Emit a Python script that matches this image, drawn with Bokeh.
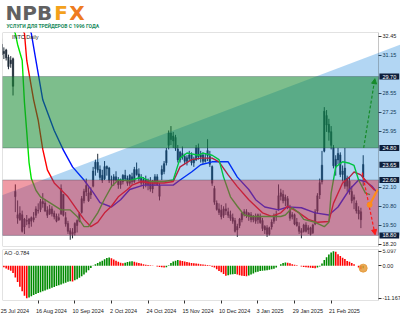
import numpy as np
from bokeh.plotting import figure
from bokeh.layouts import column
from bokeh.models import (Range1d, FixedTicker, NumeralTickFormatter, BoxAnnotation,
                          PolyAnnotation, Label, Arrow, NormalHead, ColumnDataSource,
                          LinearAxis)
from bokeh.core.properties import value
from bokeh.embed import file_html
from bokeh.resources import INLINE

# ---------------- data ----------------
opens = [31.9, 31.3, 31.5, 31.0, 30.6, 30.9, 21.8, 20.0, 20.3, 20.2,
         19.4, 19.8, 19.9, 19.8, 20.0, 20.2, 20.5, 20.6, 21.1, 21.0,
         20.5, 20.3, 20.6, 20.3, 20.1, 19.9, 20.3, 21.6, 20.0, 19.6,
         19.1, 19.0, 19.0, 19.5, 19.8, 20.4, 21.2, 22.2, 21.7, 21.6,
         22.2, 23.4, 23.8, 23.3, 22.9, 22.7, 23.4, 23.4, 22.6, 22.6,
         22.8, 22.6, 22.3, 22.5, 22.9, 22.7, 22.4, 22.8, 22.5, 23.3,
         23.0, 22.7, 22.4, 22.6, 22.3, 22.5, 22.0, 22.4, 22.8, 22.2,
         23.0, 23.2, 23.8, 25.0, 25.8, 25.3, 25.5, 24.7, 24.0, 24.4,
         24.2, 23.9, 24.1, 24.3, 23.8, 24.0, 24.8, 24.2, 24.3, 23.9,
         24.6, 24.2, 23.5, 22.0, 21.0, 20.6, 20.5, 20.2, 20.6, 20.4,
         20.2, 20.0, 19.8, 19.2, 19.5, 19.9, 20.3, 20.4, 20.1, 20.2,
         19.9, 20.1, 19.9, 20.1, 19.8, 19.2, 19.3, 18.9, 19.4, 19.8,
         20.1, 20.6, 21.5, 21.6, 21.2, 21.3, 20.5, 20.1, 20.2, 19.7,
         19.1, 19.0, 19.1, 19.5, 19.2, 19.3, 19.0, 19.6, 20.5, 21.6,
         22.5, 24.6, 27.0, 26.4, 25.9, 24.8, 23.5, 24.0, 24.3, 23.0,
         23.4, 22.2, 22.5, 21.8, 21.3, 21.0, 20.5, 20.4, 22.8]
highs = [32.3, 31.7, 31.6, 31.2, 31.1, 31.0, 22.3, 21.2, 20.8, 20.5,
         20.0, 20.2, 20.0, 20.1, 20.4, 20.8, 21.0, 21.3, 21.7, 21.3,
         20.8, 20.9, 20.8, 20.5, 20.3, 20.3, 22.3, 21.6, 20.4, 19.8,
         19.3, 19.3, 19.7, 19.9, 20.4, 21.5, 22.0, 22.7, 22.1, 22.1,
         23.5, 24.0, 24.4, 23.6, 23.3, 23.9, 23.6, 23.5, 22.9, 23.0,
         23.2, 22.8, 22.7, 23.0, 23.3, 22.9, 23.0, 23.1, 23.5, 23.8,
         23.4, 23.0, 22.8, 22.9, 22.7, 22.8, 22.6, 23.0, 23.0, 22.4,
         23.6, 23.9, 24.8, 26.0, 26.3, 25.9, 25.7, 25.0, 24.6, 24.9,
         24.4, 24.3, 24.6, 24.5, 24.2, 25.0, 25.1, 24.6, 24.5, 24.4,
         25.4, 24.6, 23.6, 22.2, 21.2, 21.0, 20.9, 20.8, 21.0, 20.7,
         20.5, 20.3, 20.0, 19.6, 20.0, 20.4, 20.6, 20.6, 20.4, 20.4,
         20.2, 20.3, 20.3, 20.3, 20.0, 19.5, 19.5, 19.4, 19.9, 20.3,
         20.5, 22.3, 22.0, 21.9, 21.6, 21.5, 20.9, 20.4, 20.3, 20.0,
         19.7, 19.3, 19.6, 19.7, 19.5, 19.4, 19.6, 20.6, 21.7, 22.7,
         24.6, 27.6, 27.4, 26.8, 26.3, 25.0, 24.3, 24.8, 24.5, 23.6,
         24.8, 22.9, 22.8, 22.2, 21.6, 21.2, 20.8, 20.7, 24.3]
lows = [31.0, 30.9, 30.8, 30.2, 30.3, 28.4, 20.4, 19.6, 19.8, 19.0,
        18.9, 19.5, 19.3, 19.4, 19.7, 20.0, 20.3, 20.4, 20.7, 20.4,
        20.0, 20.2, 20.1, 19.9, 19.7, 19.8, 20.2, 20.1, 19.4, 18.9,
        18.5, 18.6, 18.8, 19.0, 19.7, 20.3, 21.0, 21.5, 21.1, 21.3,
        22.1, 22.9, 23.1, 22.6, 22.4, 22.6, 22.9, 22.4, 22.2, 22.2,
        22.5, 22.0, 22.0, 22.3, 22.6, 22.2, 22.2, 22.3, 22.4, 22.9,
        22.5, 22.2, 22.0, 22.1, 21.9, 21.8, 21.7, 22.2, 22.2, 21.2,
        22.6, 23.0, 23.6, 24.7, 25.0, 24.8, 24.6, 23.8, 23.8, 24.0,
        23.7, 23.6, 23.9, 23.6, 23.5, 23.9, 24.0, 23.8, 23.7, 23.8,
        23.9, 23.5, 22.2, 20.9, 20.5, 20.2, 19.9, 20.0, 20.2, 20.0,
        19.8, 19.6, 19.0, 18.7, 19.3, 19.7, 20.1, 20.0, 19.8, 19.7,
        19.7, 19.6, 19.6, 19.6, 19.1, 18.9, 18.7, 18.8, 19.2, 19.6,
        19.8, 20.5, 21.2, 21.0, 20.8, 20.6, 19.8, 19.9, 19.5, 19.4,
        18.9, 18.6, 19.0, 19.0, 18.9, 18.8, 18.9, 19.5, 20.3, 21.3,
        22.3, 24.5, 25.9, 25.3, 24.7, 23.4, 22.9, 23.7, 22.8, 22.5,
        22.0, 21.8, 21.6, 21.0, 20.6, 20.3, 19.9, 19.3, 22.2]
closes = [31.2, 31.4, 31.0, 30.4, 30.8, 29.05, 21.48, 20.2, 19.9, 19.1,
          19.9, 19.8, 19.6, 20.0, 19.9, 20.6, 20.5, 21.1, 21.0, 20.5,
          20.2, 20.6, 20.3, 20.1, 19.8, 20.0, 22.0, 20.2, 19.6, 19.1,
          18.9, 18.9, 19.6, 19.8, 20.3, 21.3, 21.8, 21.8, 21.2, 21.8,
          23.2, 23.8, 23.3, 22.8, 22.6, 23.5, 23.5, 22.6, 22.6, 22.8,
          22.6, 22.3, 22.5, 22.9, 22.7, 22.4, 22.9, 22.5, 23.3, 23.0,
          22.7, 22.4, 22.6, 22.3, 22.5, 22.0, 22.4, 22.8, 22.3, 21.5,
          23.3, 23.7, 24.6, 25.8, 25.4, 25.6, 24.8, 24.0, 24.5, 24.2,
          23.9, 24.1, 24.3, 23.8, 24.0, 24.8, 24.2, 24.3, 23.9, 24.0,
          24.3, 23.7, 22.4, 21.1, 20.6, 20.4, 20.1, 20.6, 20.5, 20.2,
          20.0, 19.8, 19.1, 19.4, 19.9, 20.3, 20.4, 20.2, 20.3, 19.9,
          20.05, 19.8, 20.2, 19.7, 19.3, 19.4, 18.9, 19.3, 19.7, 20.1,
          20.2, 21.5, 21.7, 21.2, 21.4, 20.8, 20.0, 20.2, 19.6, 19.5,
          19.4, 19.1, 19.5, 19.1, 19.3, 18.9, 19.5, 20.4, 21.5, 22.4,
          23.6, 27.3, 26.4, 25.9, 25.0, 23.6, 24.0, 24.4, 23.0, 23.2,
          22.2, 22.7, 21.8, 21.2, 21.4, 20.5, 20.3, 19.9, 23.65]

# Alligator lines (bar index, price)
jaw_idx = [11, 13, 15, 18, 23, 27, 31, 36, 40, 43, 48, 52, 56, 62, 71, 75, 78, 83, 87,
           92, 99, 103, 108, 111, 115, 121, 125, 131, 137, 143, 147, 152, 156, 159, 162, 164]
jaw_val = [33.5, 32.65, 30.8, 28.1, 26.0, 24.65, 23.5, 22.6, 21.75, 21.05, 20.75, 21.25,
           21.95, 22.25, 22.25, 22.25, 22.6, 23.15, 23.65, 23.85, 23.85, 22.8, 21.95, 21.25,
           20.75, 20.55, 20.75, 20.7, 20.35, 20.2, 20.75, 21.95, 22.6, 22.5, 22.15, 21.75]
teeth_idx = [7, 10, 11, 14, 16, 18, 20, 23, 29, 33, 36, 39, 42, 45, 48, 51, 55, 57, 61, 65,
             71, 75, 78, 83, 87, 92, 95, 99, 103, 108, 111, 114, 118, 122, 125, 130, 134,
             138, 143, 145, 149, 152, 154, 157, 160, 163]
teeth_val = [33.6, 32.65, 30.8, 28.1, 26.7, 24.7, 23.3, 22.4, 21.45, 20.55, 19.9, 19.4,
             19.7, 20.35, 20.8, 21.45, 21.95, 22.25, 22.5, 22.4, 22.4, 22.5, 23.5, 24.0,
             24.1, 24.1, 23.85, 22.95, 22.15, 21.25, 20.8, 20.35, 20.1, 20.35, 20.8, 20.35,
             19.9, 19.7, 19.75, 21.0, 22.4, 22.8, 23.15, 22.95, 22.4, 21.9]
lips_idx = [3, 6, 7, 9, 10, 11, 12, 13, 15, 17, 21, 26, 30, 33, 36, 38, 42, 45, 48, 51,
            56, 61, 65, 71, 75, 78, 81, 86, 88, 92, 95, 97, 100, 103, 106, 109, 113, 118,
            122, 124, 127, 130, 132, 137, 141, 143, 144, 146, 149, 152, 154, 156, 159, 161]
lips_val = [33.6, 32.65, 31.9, 30.8, 27.9, 25.9, 23.8, 22.7, 21.9, 21.45, 21.05, 20.55,
            20.55, 20.1, 19.4, 19.4, 20.35, 21.3, 22.15, 22.6, 22.55, 22.8, 22.5, 22.5,
            22.6, 24.1, 24.45, 24.3, 24.45, 24.3, 24.0, 22.8, 21.45, 20.8, 20.2, 20.1, 20.1,
            20.1, 20.1, 20.2, 20.7, 20.35, 19.9, 19.7, 19.4, 19.7, 21.7, 23.5, 23.85, 23.75,
            23.6, 22.6, 21.7, 21.6]

# Awesome Oscillator
ao = [-0.2, -0.5, -0.9, -1.3, -1.7, -2.5, -4.0, -5.6, -7.2, -8.8,
      -10.3, -11.167, -10.9, -10.5, -10.1, -9.7, -9.4, -9.1, -8.8, -8.5,
      -8.2, -7.9, -7.6, -7.3, -7.0, -6.7, -6.4, -6.1, -5.8, -5.5,
      -5.3, -5.4, -5.0, -4.6, -4.1, -3.6, -3.0, -2.3, -1.5, -0.7,
      0.1, 0.6, 1.0, 1.4, 1.8, 2.3, 2.7, 2.9, 2.6, 2.2,
      1.8, 1.4, 1.1, 0.9, 1.1, 1.3, 1.5, 1.6, 1.4, 1.2,
      1.0, 0.8, 0.6, 0.4, 0.3, 0.2, 0.1, 0.0, -0.2, -0.4,
      -0.5, -0.6, -0.5, 0.2, 1.0, 1.5, 1.8, 2.0, 1.9, 1.7,
      1.5, 1.3, 1.2, 1.0, 0.9, 0.8, 0.7, 0.6, 0.5, 0.4,
      0.3, 0.2, -0.3, -0.6, -1.2, -1.8, -2.2, -2.8, -3.4, -3.2,
      -3.0, -2.9, -2.8, -3.0, -3.2, -3.4, -3.5, -3.6, -3.3, -3.0,
      -2.6, -2.2, -2.0, -1.8, -1.7, -1.6, -1.5, -1.3, -1.2, -1.0,
      -0.6, 0.0, 0.6, 1.0, 1.2, 1.1, 0.9, 0.6, 0.4, 0.2,
      0.0, -0.2, -0.4, -0.5, -0.6, -0.65, -0.7, -0.8, -0.6, -0.2,
      0.8, 2.0, 3.0, 3.9, 4.6, 5.097, 4.9, 4.0, 3.4, 2.8,
      2.4, 1.7, 1.4, 1.0, 0.6, 0.0, -0.6, -1.2, -0.784]

# levels / zones / forecast
zone_buy = [24.80, 29.70]
zone_sell = [18.80, 22.60]
wedge_idx = [0, 176, 176, 0]
wedge_price = [21.55, 32.0, 18.80, 18.80]
level_marks = [29.70, 24.80, 23.65, 22.60, 18.80]
up_arrow = [158.2, 24.80, 163.1, 29.55]
down_arrow = [157.6, 23.10, 163.2, 18.85]
proj_idx = [160.8, 162.5, 164.3]
proj_val = [20.9, 21.4, 21.95]

price_ticks = [32.45, 31.15, 28.55, 27.25, 25.95, 22.10, 20.80, 19.50, 18.20]
ao_ticks = [5.097, 0.0, -11.167]
ao_tick_labels = ["5.097", "0.00", "-11.167"]
date_ticks = [0, 16, 32, 48, 64, 80, 96, 112, 128, 144]
date_labels = ["25 Jul 2024", "16 Aug 2024", "10 Sep 2024", "2 Oct 2024", "24 Oct 2024",
               "15 Nov 2024", "10 Dec 2024", "3 Jan 2025", "29 Jan 2025", "21 Feb 2025"]

# ---------------- build ----------------
n = len(closes)
bars = list(range(n))
src = ColumnDataSource(dict(
    x=bars, h=highs, l=lows,
    top=[max(o, c) + 0.02 for o, c in zip(opens, closes)],
    bottom=[min(o, c) - 0.02 for o, c in zip(opens, closes)]))

FONT = "Liberation Sans"
AX_FS = "5.5px"
PANEL_END = 164.7          # right edge of the chart panels (price scale lies beyond)
xr = Range1d(0.4, 174.3)
BORDER = "#3a3a3a"


def style_axis(ax, standoff=1):
    ax.major_label_text_font = FONT
    ax.major_label_text_font_size = AX_FS
    ax.major_label_text_color = "#222222"
    ax.major_tick_out = 3
    ax.major_tick_in = 0
    ax.minor_tick_out = 0
    ax.minor_tick_in = 0
    ax.major_label_standoff = standoff
    ax.axis_line_color = None
    ax.major_tick_line_color = "#333333"


# logo
logo = figure(width=400, height=31, x_range=Range1d(0, 400), y_range=Range1d(31, 0),
              output_backend="svg", toolbar_location=None, min_border=0,
              x_axis_location=None, y_axis_location=None, outline_line_color=None)
logo.grid.visible = False
for txt, x0, col in [("NPB", 3, "#616161"), ("F", 52, "#f3a11c"), ("X", 67, "#ee7b20")]:
    logo.text(x=[x0], y=[0], text=[txt], text_font=value("DejaVu Sans"),
              text_font_style="bold", text_font_size="20px", text_color=col,
              text_baseline="top")
logo.text(x=[4], y=[22], text=["УСЛУГИ ДЛЯ ТРЕЙДЕРОВ С 1996 ГОДА"], text_font=value("Roboto"),
          text_font_style="bold", text_font_size="5px", text_color="#1b8a5c",
          text_baseline="top")

# main price panel
p = figure(width=400, height=217, x_range=xr, y_range=Range1d(18.04, 32.72),
           output_backend="svg", toolbar_location=None, x_axis_location=None,
           y_axis_location=None, min_border_left=2, min_border_right=0,
           min_border_top=1, min_border_bottom=2, outline_line_color=None,
           background_fill_color="white", border_fill_color="white")
p.grid.visible = False
ya = LinearAxis(fixed_location=PANEL_END, ticker=FixedTicker(ticks=price_ticks),
                formatter=NumeralTickFormatter(format="0.00"))
style_axis(ya)
p.add_layout(ya, "right")

p.segment(x0="x", y0="l", x1="x", y1="h", source=src, color="#1f2b38", line_width=1)
p.vbar(x="x", width=0.62, top="top", bottom="bottom", source=src,
       fill_color="#1f2b38", line_color="#1f2b38", line_width=0.5)
p.line(jaw_idx, jaw_val, color="#0010ff", line_width=1.4)
p.line(teeth_idx, teeth_val, color="#ff0000", line_width=1.4)
p.line(lips_idx, lips_val, color="#00e400", line_width=1.4)
p.text(x=[4.5], y=[32.62], text=["INTC,Daily"], text_font=value(FONT), text_font_size=AX_FS,
       text_baseline="top", text_color="#1a1a1a")

p.add_layout(PolyAnnotation(xs=wedge_idx, ys=wedge_price, fill_color="#0078d7",
                            fill_alpha=0.3, line_color=None))
p.add_layout(BoxAnnotation(bottom=zone_buy[0], top=zone_buy[1], right=PANEL_END,
                           fill_color="#12892e", fill_alpha=0.55, line_color="#2f3d48",
                           line_width=1))
p.add_layout(BoxAnnotation(bottom=zone_sell[0], top=zone_sell[1], right=PANEL_END,
                           fill_color="#dd2137", fill_alpha=0.45, line_color="#2f3d48",
                           line_width=1))
p.add_layout(BoxAnnotation(right=PANEL_END, fill_alpha=0, fill_color=None,
                           line_color=BORDER, line_width=1))
p.add_layout(Arrow(end=NormalHead(size=5, fill_color="#168a2a", line_color="#168a2a"),
                   x_start=up_arrow[0], y_start=up_arrow[1], x_end=up_arrow[2], y_end=up_arrow[3],
                   line_color="#168a2a", line_dash="3 2", line_width=1.2))
p.add_layout(Arrow(end=NormalHead(size=5, fill_color="#ff1a1a", line_color="#ff1a1a"),
                   x_start=down_arrow[0], y_start=down_arrow[1], x_end=down_arrow[2],
                   y_end=down_arrow[3], line_color="#ff1a1a", line_dash="3 2", line_width=1.2))
p.line(proj_idx, proj_val, color="#ff8c1a", line_width=2.2, level="overlay")
p.scatter([proj_idx[0]], [proj_val[0]], size=5, color="#ff8c1a", level="overlay")

for v in level_marks:
    p.add_layout(Label(x=165.1, y=v, text=f"{v:.2f}", text_align="left",
                       text_baseline="middle", text_color="white", text_font=FONT,
                       text_font_size=AX_FS, background_fill_color="#0d1f3c",
                       padding=dict(left=3, right=3, top=1, bottom=1)))

# AO panel
q = figure(width=400, height=68, x_range=xr, y_range=Range1d(-11.97, 5.66),
           output_backend="svg", toolbar_location=None, y_axis_location=None,
           x_axis_location=None, min_border_left=2, min_border_right=0,
           min_border_top=1, min_border_bottom=15, outline_line_color=None)
q.grid.visible = False
ao_colors = ["#ff0000"] + ["#008a00" if ao[i] >= ao[i - 1] else "#ff0000" for i in range(1, n)]
q.vbar(x=bars, top=ao, bottom=0, width=0.7, fill_color=ao_colors, line_color=None)
q.scatter([bars[-1]], [ao[-1]], size=8, color="#e59a3a", alpha=0.85)
q.text(x=[1.2], y=[5.4], text=[f"AO {ao[-1]:.3f}"], text_font=value(FONT), text_font_size=AX_FS,
       text_baseline="top", text_color="#1a1a1a")
q.add_layout(BoxAnnotation(right=PANEL_END, fill_alpha=0, fill_color=None,
                           line_color=BORDER, line_width=1))
qy = LinearAxis(fixed_location=PANEL_END, ticker=FixedTicker(ticks=ao_ticks),
                major_label_overrides=dict(zip(ao_ticks, ao_tick_labels)))
style_axis(qy)
q.add_layout(qy, "right")

# date scale: tick marks at the bar (minor ticks), labels starting at the tick (MT4 style)
label_pos = [t + 0.53 * len(s) for t, s in zip(date_ticks, date_labels)]
lx = LinearAxis(ticker=FixedTicker(ticks=label_pos, minor_ticks=date_ticks),
                major_label_overrides=dict(zip(label_pos, date_labels)))
style_axis(lx, standoff=4)
lx.major_tick_out = 0
lx.major_tick_line_color = None
lx.minor_tick_out = 3
lx.minor_tick_in = 0
lx.minor_tick_line_color = "#333333"
q.add_layout(lx, "below")

layout = column(logo, p, q, spacing=0)
open("out.html", "w").write(file_html(layout, INLINE))
